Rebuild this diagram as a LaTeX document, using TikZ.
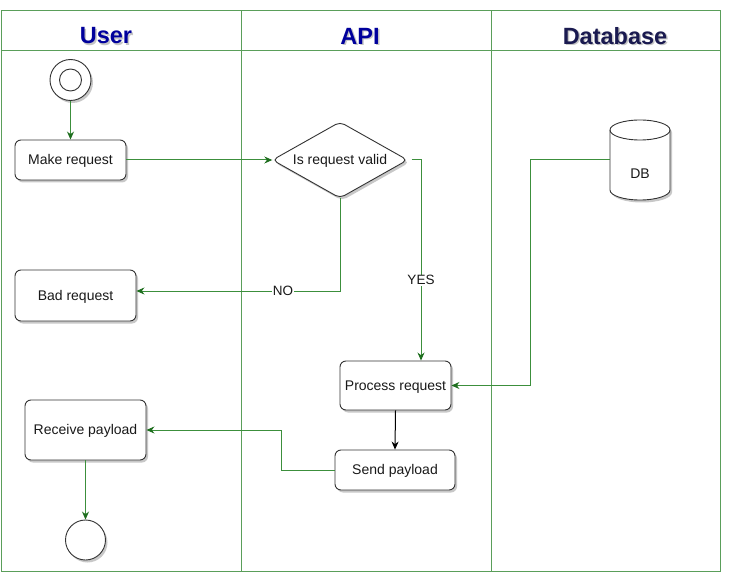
\documentclass[tikz,border=0pt]{standalone}
\usepackage{fontspec}
\setmainfont{Liberation Sans}
\usetikzlibrary{arrows.meta,shadows}
\definecolor{lane}{HTML}{5A9E5A}
\definecolor{conn}{HTML}{3C8F3C}
\definecolor{tipc}{HTML}{1E6E1E}
\definecolor{navy}{HTML}{00009C}
\definecolor{darknavy}{HTML}{1A1A50}
\definecolor{edgec}{HTML}{333333}
\begin{document}
\begin{tikzpicture}[x=1pt,y=-1pt,
  shd/.style={drop shadow={shadow xshift=2pt,shadow yshift=-2.5pt,opacity=0.3,fill=black!70}},
  lanestyle/.style={draw=lane, line width=1pt},
  txt/.style={font=\fontsize{14}{16}\selectfont, text=black!90, text height=11pt, text depth=2pt},
  box/.style={txt, draw=edgec, fill=white, rounded corners=6pt, line width=0.9pt, inner sep=0pt, shd},
  shapeline/.style={draw=edgec, fill=white, line width=0.9pt, shd},
  flow/.style={draw=conn, line width=1pt, -{Stealth[length=8pt,width=7pt,color=tipc]}},
  blackflow/.style={draw=black, line width=1pt, -{Stealth[length=8pt,width=7pt,color=black]}},
  lbl/.style={font=\fontsize{13.5}{15}\selectfont, text=black!90, fill=white, inner sep=1pt},
  head/.style={font=\bfseries\fontsize{23.5}{28}\selectfont}
]
\useasboundingbox (0,0) rectangle (734,583);
\fill[white] (0,0) rectangle (734,583);

% swimlanes
\draw[lanestyle] (1,11) rectangle (720,571);
\draw[lanestyle] (1,51) -- (720,51);
\draw[lanestyle] (241,11) -- (241,571);
\draw[lanestyle] (491,11) -- (491,571);

% header shadows
\node[head, text=black!45, opacity=0.5] at (107.5,37.5) {User};
\node[head, text=black!45, opacity=0.5] at (361.5,37.5) {API};
\node[head, text=black!45, opacity=0.5] at (616.5,37.5) {Database};
\node[head, text=navy] (huser) at (106,36) {User};
\node[head, text=navy] (hapi) at (360,36) {API};
\node[head, text=darknavy] (hdb) at (615,36) {Database};

% start
\node[shapeline, circle, minimum size=41pt, inner sep=0] (start) at (70.5,80) {};
\node[draw=edgec, line width=0.9pt, circle, minimum size=22pt, inner sep=0] (startin) at (70.5,80) {};

% boxes
\node[box, minimum width=111pt, minimum height=40pt] (make) at (70.5,160) {Make request};
\node[box, minimum width=121pt, minimum height=51pt] (bad) at (75.5,295.5) {Bad request};
\node[box, minimum width=111pt, minimum height=49pt] (proc) at (395.5,385.5) {Process request};
\node[box, minimum width=121pt, minimum height=60pt] (recv) at (85.5,430) {Receive payload};
\node[box, minimum width=120pt, minimum height=40pt] (send) at (395,470) {Send payload};

% end
\node[shapeline, circle, minimum size=40pt, inner sep=0] (finish) at (85.5,540) {};

% decision diamond
\draw[shapeline, rounded corners=5pt] (272.5,160) -- (340,122) -- (407.5,160) -- (340,198) -- cycle;
\node[txt, minimum width=135pt, minimum height=76pt, inner sep=0] (valid) at (340,160) {Is request valid};

% database cylinder
\draw[shapeline] (610,130) -- (610,190) arc[start angle=180,end angle=360,x radius=30pt,y radius=10pt]
  -- (670,130) arc[start angle=0,end angle=180,x radius=30pt,y radius=10pt] -- cycle;
\draw[draw=edgec, line width=0.9pt] (610,130) arc[start angle=180,end angle=360,x radius=30pt,y radius=10pt];
\node[minimum width=60pt, minimum height=80pt, inner sep=0] (db) at (640,160) {};
\node[txt] (dblabel) at (640,174) {DB};

% connectors
\draw[flow] (start) -- (make);
\draw[flow] (make.east) -- (valid.west);
\draw[flow] ([xshift=4pt]valid.east) -| node[lbl, pos=0.8] {YES} ([xshift=25.5pt]proc.north);
\draw[flow] (valid.south) |- node[lbl, pos=0.64] {NO} ([yshift=4.5pt]bad.east);
\draw[flow] (db.west) -- (530,160) |- (proc.east);
\draw[blackflow] (proc.south) -- (send.north);
\draw[flow] (send.west) -- (281,470) |- (recv.east);
\draw[flow] (recv.south) -- (finish.north);
\end{tikzpicture}
\end{document}
